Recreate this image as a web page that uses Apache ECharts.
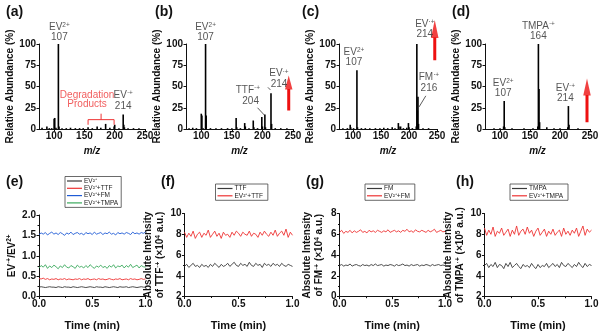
<!DOCTYPE html>
<html><head><meta charset="utf-8">
<script src="https://cdn.jsdelivr.net/npm/echarts@6.0.0/dist/echarts.min.js"></script>
<style>html,body{margin:0;padding:0;background:#fff}#c{width:603px;height:333px}</style>
</head><body><div id="c"></div>
<script>
// ---------------- data ----------------
const mzTicks = [100, 150, 200, 250];
// mass spectra: [m/z, relative abundance %]
const specA = [[80,1.5],[88,3],[92,1],[96,1],[100,12],[101,13],[103,1.5],[107,100],[108,3],[113,1],[120,1],[127,1.5],[135,1],[142,1],[148,1],[156,2],[163,1],[171,3],[177,1.5],[185,6],[192,1.5],[199,3],[200,5],[207,1],[214,17],[215,5],[216,2],[222,1],[231,1],[240,1]];
const specB = [[80,1],[86,1.5],[92,1],[100,18],[101,16],[103,1],[107,100],[108,16],[115,1],[124,1],[133,1],[143,1],[150,1],[157,13],[158,2],[164,1],[171,7],[172,3],[178,1],[185,10],[186,2],[192,1],[199,14],[200,3],[204,17],[205,2],[214,42],[215,6],[221,1],[230,1],[240,1]];
const specC = [[82,1],[90,1],[95,5],[96,2],[101,1],[107,69],[108,2],[115,1],[122,1],[130,1],[140,1],[148,1],[155,1.5],[162,1],[170,2],[175,1],[181,7],[182,3],[185,3],[190,1],[196,1.5],[199,7],[200,2],[206,1],[213,3],[214,100],[215,22],[216,38],[217,6],[225,1],[235,1]];
const specD = [[90,1],[100,1],[106,3],[107,33],[108,2],[120,1],[140,1],[155,1],[163,3],[164,100],[165,47],[166,8],[178,2],[190,1],[200,1],[213,2],[214,27],[215,5],[230,1]];

// annotation guides (data units)
const bracketA = [[156,5],[156,11],[199,11],[199,5]];
const bracketTickA = [[177.5,11],[177.5,18]];
const leaderB1 = [[192,25],[203,16.5]];
const leaderB2 = [[209,49],[213,46]];
const leaderC = [[218,26],[230,39]];
const arrowShaftB = [[243,21.7],[243,47]];
const arrowHeadB = [[243,54.7]];
const arrowShaftC = [[246,81],[246,108]];
const arrowHeadC = [[246,117.6]];
const arrowShaftD = [[245,7.8],[245,40]];
const arrowHeadD = [[245,49.3]];

// time traces
const timeMin = [0,0.02,0.04,0.06,0.08,0.10,0.12,0.14,0.16,0.18,0.20,0.22,0.24,0.26,0.28,0.30,0.32,0.34,0.36,0.38,0.40,0.42,0.44,0.46,0.48,0.50,0.52,0.54,0.56,0.58,0.60,0.62,0.64,0.66,0.68,0.70,0.72,0.74,0.76,0.78,0.80,0.82,0.84,0.86,0.88,0.90,0.92,0.94,0.96,0.98,1.00];
const eEV = [0.23,0.24,0.23,0.22,0.23,0.24,0.23,0.23,0.22,0.24,0.23,0.22,0.24,0.23,0.23,0.22,0.24,0.23,0.22,0.23,0.24,0.23,0.22,0.23,0.24,0.23,0.22,0.24,0.23,0.23,0.22,0.24,0.23,0.22,0.23,0.24,0.23,0.22,0.24,0.23,0.23,0.24,0.22,0.23,0.24,0.23,0.22,0.23,0.24,0.23,0.23];
const eTTF = [0.44,0.43,0.45,0.42,0.44,0.41,0.43,0.42,0.44,0.41,0.43,0.42,0.44,0.41,0.43,0.42,0.41,0.43,0.42,0.44,0.41,0.43,0.42,0.44,0.41,0.42,0.43,0.41,0.44,0.42,0.43,0.41,0.42,0.44,0.42,0.41,0.43,0.42,0.44,0.41,0.42,0.43,0.41,0.44,0.42,0.43,0.41,0.42,0.44,0.42,0.43];
const eFM = [1.52,1.56,1.53,1.57,1.51,1.55,1.58,1.53,1.56,1.52,1.57,1.54,1.50,1.56,1.53,1.58,1.52,1.55,1.57,1.53,1.55,1.51,1.57,1.54,1.56,1.52,1.58,1.53,1.55,1.57,1.52,1.56,1.54,1.58,1.53,1.55,1.51,1.57,1.54,1.56,1.53,1.57,1.55,1.52,1.58,1.54,1.56,1.53,1.57,1.55,1.58];
const eTMPA = [0.70,0.76,0.72,0.78,0.69,0.75,0.71,0.77,0.73,0.68,0.75,0.71,0.78,0.72,0.70,0.76,0.73,0.69,0.77,0.72,0.74,0.70,0.76,0.71,0.78,0.73,0.69,0.75,0.72,0.77,0.71,0.74,0.69,0.76,0.72,0.78,0.70,0.75,0.73,0.77,0.70,0.76,0.72,0.79,0.71,0.74,0.77,0.70,0.76,0.73,0.72];
const fTTF = [4.9,5.1,4.8,5.0,5.2,4.9,5.0,4.8,5.1,4.9,5.0,4.8,5.1,4.9,5.2,5.0,4.8,5.1,4.9,5.0,5.2,4.9,5.1,5.3,5.0,4.9,5.2,5.0,5.1,4.9,5.3,5.0,4.9,5.2,5.0,5.1,4.8,5.2,5.0,5.1,4.9,5.2,5.0,5.1,4.9,5.2,5.0,4.9,5.1,5.0,4.9];
const fEVTTF = [8.2,7.7,8.1,7.8,8.3,7.6,8.0,8.2,7.7,8.1,7.9,8.4,7.7,8.0,8.3,7.8,8.1,7.6,8.2,7.9,8.0,7.7,8.2,7.9,8.3,8.1,7.8,8.2,8.0,7.9,8.3,7.8,8.1,8.0,7.7,8.2,7.9,8.3,8.0,7.8,8.2,7.9,8.4,7.8,8.1,8.3,7.9,8.5,7.7,8.2,7.9];
const gFM = [3.0,3.1,2.95,3.05,3.0,3.15,2.95,3.05,3.1,3.0,2.95,3.1,3.0,3.05,2.95,3.1,3.0,3.15,3.0,3.05,3.1,2.95,3.05,3.0,3.1,3.05,2.95,3.1,3.0,3.05,3.15,3.0,3.05,2.95,3.1,3.0,3.05,3.1,2.95,3.05,3.0,3.1,3.05,2.95,3.1,3.0,3.05,3.1,3.0,3.05,3.0];
const gEVFM = [6.2,6.4,6.1,6.3,6.2,6.4,6.15,6.35,6.2,6.3,6.45,6.2,6.3,6.15,6.4,6.25,6.35,6.2,6.4,6.3,6.2,6.35,6.25,6.45,6.2,6.3,6.4,6.25,6.35,6.2,6.4,6.3,6.5,6.25,6.35,6.2,6.45,6.3,6.25,6.4,6.3,6.2,6.4,6.25,6.35,6.5,6.2,6.3,6.4,6.25,6.3];
const hTMPA = [5.0,5.2,4.8,5.1,4.9,5.3,4.8,5.1,5.0,4.7,5.2,4.9,5.3,4.8,5.0,5.2,4.9,4.7,5.1,4.9,5.0,4.8,5.2,4.9,4.7,5.1,4.8,5.0,4.9,5.2,4.8,5.0,5.2,4.9,5.1,4.8,5.3,5.0,4.9,5.2,5.0,4.8,5.1,4.9,5.3,5.0,4.8,5.2,4.9,5.1,5.0];
const hEVTMPA = [8.6,7.9,8.4,8.0,8.7,7.8,8.3,8.1,8.6,7.9,8.2,8.5,7.8,8.4,8.0,8.8,7.9,8.3,8.5,8.0,8.7,8.1,8.4,7.8,8.3,8.6,7.9,8.2,8.5,7.8,8.3,8.0,8.5,7.9,8.2,8.4,7.8,8.6,8.0,8.3,7.9,8.4,8.1,8.6,7.8,8.3,8.8,7.9,8.5,8.2,8.4];

// ---------------- styling ----------------
const FONT = "'Liberation Sans Narrow','Arial Narrow','Liberation Sans',Arial,sans-serif";
const FONTW = "'Liberation Sans',Arial,sans-serif";
const INK = '#111';
const ANN = '#2a2a2a';
const RED = '#ee3333';
const BLUE = '#1f5bd6';
const GREEN = '#3aa95c';
const GRAYLINE = '#3a3a3a';
const ARROW = '#ee1111';

const grids = [
  {left:39, top:44, width:106, height:85},
  {left:186, top:44, width:107, height:85},
  {left:339, top:44, width:98, height:85},
  {left:485, top:44, width:105, height:85},
  {left:39, top:215, width:106.5, height:81.5},
  {left:184.5, top:213.5, width:108, height:83},
  {left:339.5, top:213.7, width:105.5, height:83},
  {left:484.5, top:213.5, width:107, height:83.2}
];

function baseAxis(extra) {
  return Object.assign({
    type: 'value',
    axisLine: {show: true, onZero: false, lineStyle: {color: INK, width: 1}},
    axisTick: {show: true, inside: false, length: 2.5, lineStyle: {color: INK, width: 1}},
    splitLine: {show: false},
    axisLabel: {color: INK, fontFamily: FONT, fontWeight: 'bold', fontSize: 10, margin: 3},
    nameTextStyle: {color: INK, fontFamily: FONTW, fontWeight: 'bold', fontSize: 10}
  }, extra);
}

const xAxes = [], yAxes = [];
const yNameGapTop = [11, 13, 15, 11];
for (let i = 0; i < 4; i++) {
  xAxes.push(baseAxis({
    gridIndex: i, min: 75, max: 250,
    axisLabel: {color: INK, fontFamily: FONT, fontWeight: 'bold', fontSize: 10, margin: 2, customValues: mzTicks},
    axisTick: {show: true, inside: false, length: 2.5, lineStyle: {color: INK}, customValues: mzTicks},
    name: 'm/z', nameLocation: 'middle', nameGap: 17,
    nameTextStyle: {color: INK, fontFamily: FONT, fontWeight: 'bold', fontStyle: 'italic', fontSize: 10}
  }));
  yAxes.push(baseAxis({
    gridIndex: i, min: 0, max: 100, interval: 25,
    name: 'Relative Abundance (%)', nameLocation: 'middle', nameRotate: 90, nameGap: yNameGapTop[i]
  }));
}
const supRich = {s: {fontSize: 6.5, fontFamily: FONTW, fontWeight: 'bold', color: INK, verticalAlign: 'top', lineHeight: 6}};
const bottomY = [
  {min: 0, max: 2, interval: 0.5, fmt: 1, name: 'EV{s|·+}/EV{s|2+}', gap: 11},
  {min: 2, max: 10, interval: 2, fmt: 0, name: 'Absolute Intensity\nof TTF{s|·+} (×10{s|4} a.u.)', gap: 5},
  {min: 0, max: 8, interval: 2, fmt: 0, name: 'Absolute Intensity\nof FM{s|·+} (×10{s|4} a.u.)', gap: 14},
  {min: 2, max: 10, interval: 2, fmt: 0, name: 'Absolute Intensity\nof TMPA{s|·+} (×10{s|5} a.u.)', gap: 8}
];
bottomY.forEach((b, k) => {
  const i = 4 + k;
  xAxes.push(baseAxis({
    gridIndex: i, min: 0, max: 1, interval: 0.5,
    axisLabel: {color: INK, fontFamily: FONT, fontWeight: 'bold', fontSize: 10, margin: 3, formatter: v => v.toFixed(1)},
    minorTick: {show: true, splitNumber: 2, length: 1.5, lineStyle: {color: INK}},
    name: 'Time (min)', nameLocation: 'middle', nameGap: 24,
    nameTextStyle: {color: INK, fontFamily: FONT, fontWeight: 'bold', fontSize: 11}
  }));
  yAxes.push(baseAxis({
    gridIndex: i, min: b.min, max: b.max, interval: b.interval,
    axisLabel: {color: INK, fontFamily: FONT, fontWeight: 'bold', fontSize: 10, margin: 3, formatter: v => v.toFixed(b.fmt)},
    minorTick: {show: true, splitNumber: 2, length: 1.5, lineStyle: {color: INK}},
    name: b.name, nameLocation: 'middle', nameRotate: 90, nameGap: b.gap,
    nameTextStyle: {color: INK, fontFamily: FONTW, fontWeight: 'bold', fontSize: 10, lineHeight: 12, rich: supRich}
  }));
});

// ---------------- series ----------------
const series = [];
[specA, specB, specC, specD].forEach((sp, i) => {
  series.push({type: 'bar', xAxisIndex: i, yAxisIndex: i, data: sp, barWidth: 1.6,
    itemStyle: {color: '#000'}, silent: true});
});

const annRich = {
  t: {fontSize: 10, fontFamily: FONT, color: ANN, lineHeight: 10.5},
  s: {fontSize: 6.5, fontFamily: FONT, color: ANN, lineHeight: 6, verticalAlign: 'top'}
};
function peak(sp, mz) { const p = sp.find(d => d[0] === mz); return [p[0], p[1]]; }
function ann(sp, mz, text, distance, dx) {
  return {value: peak(sp, mz), label: {show: true, position: 'top', formatter: text, distance: distance, offset: [dx, 0], align: 'center', rich: annRich}};
}
function annSeries(i, items) {
  series.push({type: 'scatter', xAxisIndex: i, yAxisIndex: i, symbolSize: 1, itemStyle: {color: 'rgba(0,0,0,0)'},
    silent: true, clip: false, data: items});
}
annSeries(0, [
  ann(specA, 107, '{t|EV}{s|2+}\n{t|107}', 1, 1),
  ann(specA, 214, '{t|EV}{s|·+}\n{t|214}', 3, 0),
  {value: bracketTickA[1], label: {show: true, position: 'top', distance: 4, offset: [-14, 0], align: 'center',
    formatter: 'Degradation\nProducts', color: RED, fontFamily: FONT, fontSize: 10, lineHeight: 9.5}}
]);
annSeries(1, [
  ann(specB, 107, '{t|EV}{s|2+}\n{t|107}', 1, 0),
  ann(specB, 204, '{t|TTF}{s|·+}\n{t|  204}', 8, -17),
  ann(specB, 214, '{t|EV}{s|·+}\n{t|214}', 3.5, 8)
]);
annSeries(2, [
  ann(specC, 107, '{t|EV}{s|2+}\n{t|107}', 2, -3),
  ann(specC, 214, '{t|EV}{s|·+}\n{t|214}', 4, 8),
  ann(specC, 216, '{t|FM}{s|·+}\n{t|216}', 3, 11)
]);
annSeries(3, [
  ann(specD, 164, '{t|TMPA}{s|·+}\n{t|164}', 2, 0),
  ann(specD, 107, '{t|EV}{s|2+}\n{t|107}', 1.5, -1),
  ann(specD, 214, '{t|EV}{s|·+}\n{t|214}', 2, -3)
]);

function guide(i, data, color, width) {
  series.push({type: 'line', xAxisIndex: i, yAxisIndex: i, data: data, showSymbol: false, symbol: 'none',
    silent: true, clip: false, lineStyle: {color: color, width: width}});
}
guide(0, bracketA, RED, 1);
guide(0, bracketTickA, RED, 1);
guide(1, leaderB1, '#333', 0.8);
guide(1, leaderB2, '#333', 0.8);
guide(2, leaderC, '#333', 0.8);
guide(1, arrowShaftB, ARROW, 3);
guide(2, arrowShaftC, ARROW, 3);
guide(3, arrowShaftD, ARROW, 3);
function head(i, data, size) {
  series.push({type: 'scatter', xAxisIndex: i, yAxisIndex: i, data: data, symbol: 'triangle', symbolSize: size,
    itemStyle: {color: ARROW}, silent: true, clip: false});
}
head(1, arrowHeadB, [7.5, 14]);
head(2, arrowHeadC, [7.5, 18]);
head(3, arrowHeadD, [7.5, 17]);

function zip(vals) { return timeMin.map((t, k) => [t, vals[k]]); }
function trace(i, name, vals, color) {
  series.push({type: 'line', name: name, xAxisIndex: i, yAxisIndex: i, data: zip(vals), showSymbol: false, symbol: 'none',
    silent: true, lineStyle: {color: color, width: 0.9}, itemStyle: {color: color}});
}
trace(4, 'EV²⁺', eEV, GRAYLINE);
trace(4, 'EV²⁺+TTF', eTTF, RED);
trace(4, 'EV²⁺+FM', eFM, BLUE);
trace(4, 'EV²⁺+TMPA', eTMPA, GREEN);
trace(5, 'TTF', fTTF, GRAYLINE);
trace(5, 'EV²⁺+TTF ', fEVTTF, RED);
trace(6, 'FM', gFM, GRAYLINE);
trace(6, 'EV²⁺+FM ', gEVFM, RED);
trace(7, 'TMPA', hTMPA, GRAYLINE);
trace(7, 'EV²⁺+TMPA ', hEVTMPA, RED);

function legend(left, top, names, lh) {
  return {left: left, top: top, orient: 'vertical', data: names, icon: 'rect', itemWidth: 15, itemHeight: 1.2,
    itemGap: 0.3, padding: [1, 3, 1, 2], borderColor: '#444', borderWidth: 0.8, selectedMode: false,
    textStyle: {fontSize: 6.5, fontFamily: FONT, color: '#222', lineHeight: lh, padding: [0, 0, 0, -3]}};
}
const titles = [['(a)', 6, 5], ['(b)', 155, 5], ['(c)', 302, 5], ['(d)', 452, 5],
  ['(e)', 6, 175], ['(f)', 161, 175], ['(g)', 306, 175], ['(h)', 456, 175]].map(t => ({
  text: t[0], left: t[1], top: t[2], padding: 0,
  textStyle: {fontFamily: FONTW, fontWeight: 'bold', fontSize: 14, color: INK}
}));

const chart = echarts.init(document.getElementById('c'), null, {renderer: 'canvas', width: 603, height: 333});
chart.setOption({
  animation: false,
  backgroundColor: '#fff',
  title: titles,
  grid: grids,
  xAxis: xAxes,
  yAxis: yAxes,
  legend: [
    legend(65, 176.5, ['EV²⁺', 'EV²⁺+TTF', 'EV²⁺+FM', 'EV²⁺+TMPA'], 5.3),
    legend(215.5, 184, ['TTF', 'EV²⁺+TTF '], 6.5),
    legend(365, 184, ['FM', 'EV²⁺+FM '], 6.5),
    legend(510, 184, ['TMPA', 'EV²⁺+TMPA '], 6.5)
  ],
  series: series
});
</script></body></html>
